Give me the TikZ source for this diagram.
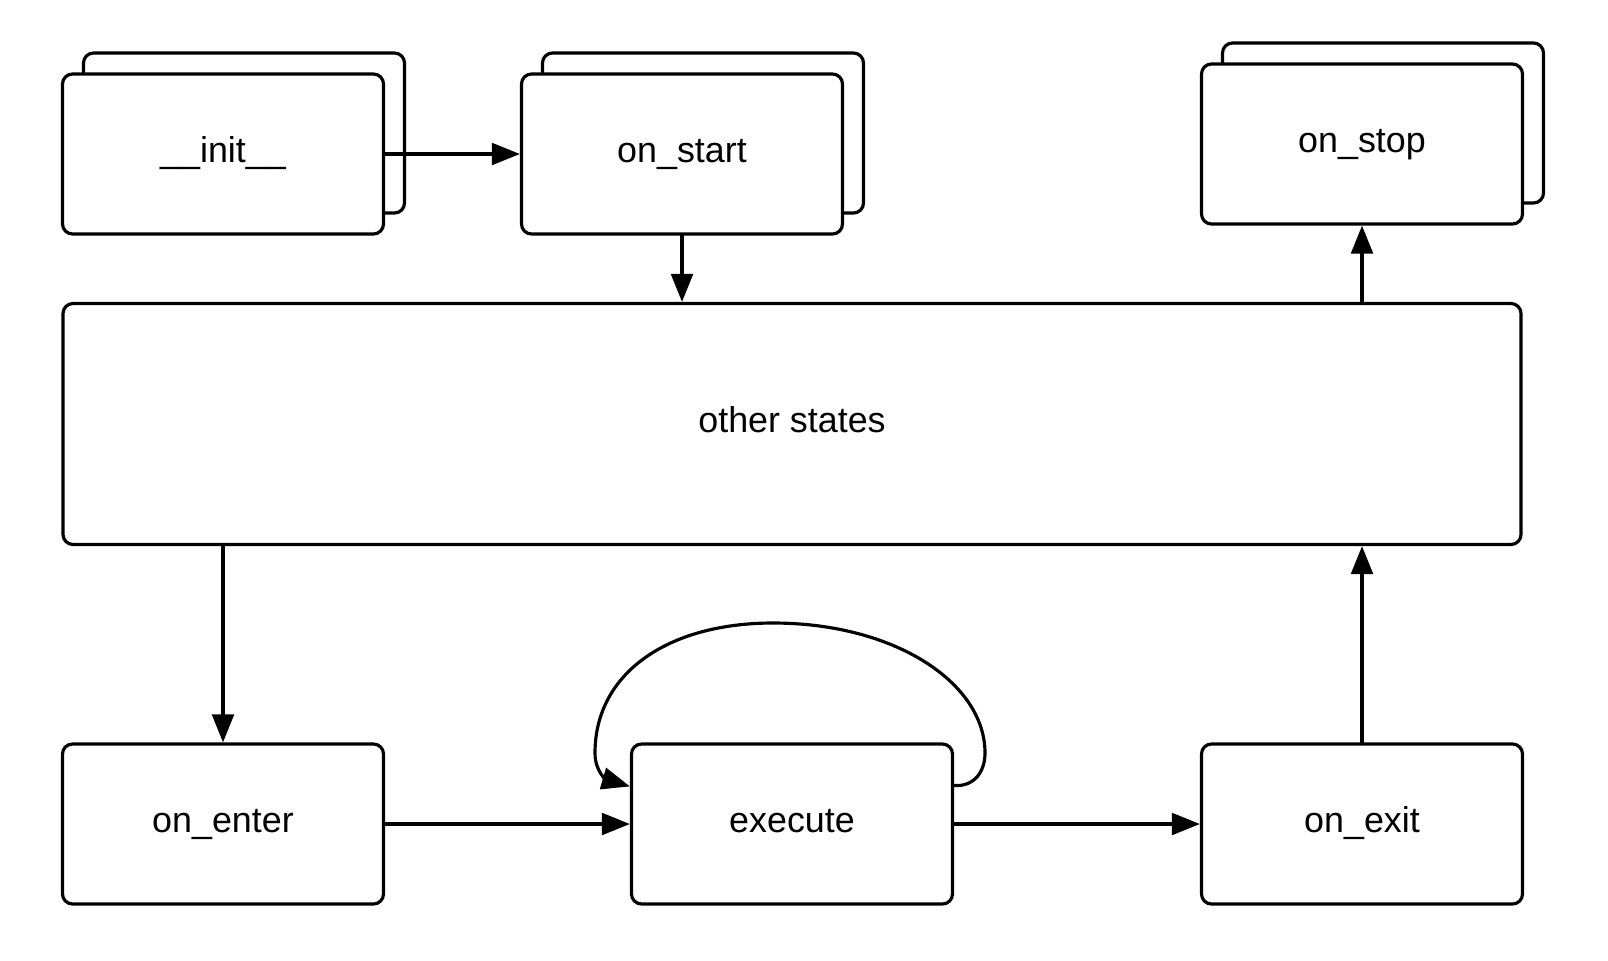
\documentclass[tikz,border=0pt]{standalone}
\usepackage{fontspec}
\setmainfont{Liberation Sans}
\usetikzlibrary{arrows.meta}
\begin{document}
\begin{tikzpicture}[font=\fontsize{10.2}{12}\selectfont, line join=round, line cap=round, line width=.9pt, >={Triangle[length=8pt,width=6.2pt]},
	state/.style={draw, fill=white, rounded corners=.1cm, minimum width=3.21cm, minimum height=1.6cm, inner sep=0pt, text height=7pt, text depth=2.4pt}]
	\useasboundingbox(0,0)rectangle(16.08,9.6);
	% copies behind the first states
	\node[state](initback)at(2.44,8.27){};
	\node[state](startback)at(7.03,8.27){};
	\node[state](stopback)at(13.83,8.37){};
	\node[state](init)at(2.23,8.06){\_\_init\_\_};
	\node[state](start)at(6.82,8.06){on\_start};
	\node[state](stop)at(13.62,8.16){on\_stop};
	\node[state, minimum width=14.58cm, minimum height=2.41cm](other)at(7.92,5.36){other states};
	\node[state](enter)at(2.23,1.36){on\_enter};
	\node[state](execute)at(7.92,1.36){execute};
	\node[state](exit)at(13.62,1.36){on\_exit};
	\draw[->](init)--(start);
	\draw[->](start)--(start|-other.north);
	\draw[->](stop|-other.north)--(stop);
	\draw[->](other.south-|enter)--(enter);
	\draw[->](exit)--(exit|-other.south);
	\draw[->](enter)--(execute);
	\draw[->](execute)--(exit);
	\draw[->]
	([yshift=-.43cm]execute.north east)
	.. controls (9.73,1.73) and (9.85,1.87) .. (9.85,2.07)
	.. controls (9.85,2.77) and (8.95,3.37) .. (7.73,3.37)
	.. controls (6.68,3.37) and (5.95,2.87) .. (5.95,2.07)
	.. controls (5.95,1.87) and (6.08,1.80) .. ([yshift=-.44cm]execute.north west)
	;
\end{tikzpicture}
\end{document}
